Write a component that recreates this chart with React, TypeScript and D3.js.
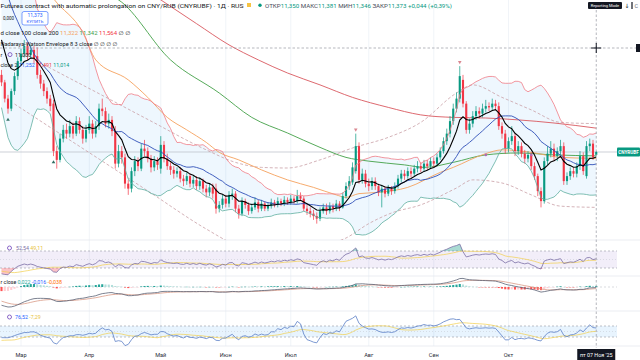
import React from "react";
import * as d3 from "d3";

// ---------- DATA ----------
const preCloses = [13.55, 13.5, 13.58, 13.48, 13.42, 13.5, 13.4, 13.35, 13.42, 13.3, 13.25, 13.32, 13.2, 13.15, 13.22, 13.1, 12.8, 12.45, 12.5, 12.38, 12.3, 12.25, 12.1, 12.15, 12.02];

const closes = [
  11.93, 11.8, 11.72, 11.86, 11.98, 12.1, 12.16, 12.22, 12.15, 12.19,
  12.12, 11.99, 11.92, 11.86, 11.8, 11.74, 11.38, 11.31, 11.48, 11.55,
  11.52, 11.58, 11.52, 11.62, 11.55, 11.48, 11.55, 11.6, 11.52, 11.58,
  11.72, 11.7, 11.6, 11.63, 11.54, 11.28, 11.38, 11.33, 11.12, 11.08,
  11.22, 11.3, 11.26, 11.4, 11.38, 11.32, 11.25, 11.3, 11.27, 11.43,
  11.32, 11.26, 11.23, 11.2, 11.22, 11.16, 11.14, 11.18, 11.12, 11.15,
  11.1, 11.14, 11.08, 11.05, 11.09, 11.04, 10.92, 10.95, 11.0, 10.96,
  11.03, 11.04, 10.92, 10.88, 10.98, 10.95, 10.9, 10.93, 10.97, 10.92,
  10.96, 10.92, 10.94, 10.97, 10.95, 10.98, 10.96, 10.99, 10.97, 11.0,
  10.98, 11.02, 11.0, 10.92, 10.9, 10.88, 10.86, 10.84, 10.9, 10.93,
  10.9, 10.94, 10.92, 10.96, 10.93, 11.02, 11.1, 11.14, 11.25, 11.42,
  11.15, 11.2, 11.12, 11.1, 11.14, 11.1, 11.05, 11.08, 11.04, 11.08,
  11.06, 11.1, 11.16, 11.2, 11.18, 11.22, 11.2, 11.24, 11.26, 11.24,
  11.28, 11.26, 11.3, 11.28, 11.33, 11.38, 11.46, 11.52, 11.62, 11.72,
  11.8, 11.98, 11.76, 11.55, 11.6, 11.66, 11.7, 11.68, 11.72, 11.74,
  11.73, 11.76, 11.74, 11.58, 11.52, 11.4, 11.46, 11.5, 11.38, 11.42,
  11.36, 11.32, 11.35, 11.26, 11.18, 11.06, 10.98, 11.3, 11.36, 11.4,
  11.34, 11.38, 11.42, 11.14, 11.18, 11.22, 11.2, 11.26, 11.34, 11.22,
  11.42, 11.44, 11.33, 11.373,
];
const opens = [
  11.99, 11.93, 11.8, 11.72, 11.86, 11.98, 12.1, 12.16, 12.22, 12.15,
  12.19, 12.14, 11.99, 11.92, 11.86, 11.8, 11.76, 11.38, 11.31, 11.48,
  11.55, 11.52, 11.58, 11.52, 11.62, 11.55, 11.48, 11.55, 11.6, 11.52,
  11.58, 11.72, 11.7, 11.6, 11.63, 11.54, 11.28, 11.38, 11.33, 11.12,
  11.08, 11.22, 11.3, 11.24, 11.4, 11.38, 11.32, 11.25, 11.3, 11.24,
  11.43, 11.32, 11.26, 11.23, 11.2, 11.22, 11.16, 11.14, 11.18, 11.12,
  11.15, 11.1, 11.14, 11.08, 11.05, 11.09, 11.08, 10.92, 10.95, 11.0,
  10.96, 11.03, 11.04, 10.92, 10.88, 10.98, 10.95, 10.9, 10.93, 10.97,
  10.92, 10.96, 10.92, 10.94, 10.97, 10.95, 10.98, 10.96, 10.99, 10.97,
  11.0, 10.98, 11.02, 11.0, 10.92, 10.9, 10.88, 10.86, 10.84, 10.9,
  10.93, 10.9, 10.94, 10.92, 10.96, 10.93, 11.02, 11.1, 11.13, 11.22,
  11.42, 11.15, 11.2, 11.12, 11.1, 11.14, 11.1, 11.05, 11.08, 11.04,
  11.08, 11.06, 11.1, 11.16, 11.2, 11.18, 11.22, 11.2, 11.24, 11.26,
  11.24, 11.28, 11.26, 11.3, 11.28, 11.33, 11.38, 11.46, 11.52, 11.62,
  11.72, 11.8, 11.95, 11.76, 11.55, 11.6, 11.66, 11.7, 11.68, 11.72,
  11.74, 11.73, 11.76, 11.74, 11.58, 11.52, 11.4, 11.46, 11.5, 11.38,
  11.42, 11.36, 11.32, 11.35, 11.26, 11.18, 11.06, 10.98, 11.3, 11.36,
  11.4, 11.34, 11.38, 11.42, 11.14, 11.18, 11.22, 11.2, 11.26, 11.34,
  11.18, 11.42, 11.44, 11.35,
];
const highs = [
  12.03, 11.95, 11.83, 11.88, 12.01, 12.13, 12.2, 12.27, 12.25, 12.23,
  12.22, 12.21, 12.03, 11.95, 11.89, 11.83, 11.79, 11.42, 11.52, 11.59,
  11.6, 11.63, 11.61, 11.66, 11.65, 11.58, 11.59, 11.66, 11.63, 11.62,
  11.76, 11.8, 11.73, 11.68, 11.66, 11.58, 11.43, 11.42, 11.36, 11.15,
  11.25, 11.34, 11.33, 11.44, 11.47, 11.41, 11.35, 11.34, 11.33, 11.5,
  11.46, 11.36, 11.29, 11.26, 11.25, 11.25, 11.19, 11.21, 11.2, 11.18,
  11.18, 11.17, 11.16, 11.11, 11.12, 11.12, 11.12, 10.98, 11.03, 11.03,
  11.06, 11.08, 11.06, 10.95, 11.01, 11.0, 10.97, 10.96, 11.01, 10.99,
  10.99, 10.98, 10.97, 11.0, 10.99, 11.01, 11.0, 11.02, 11.01, 11.03,
  11.02, 11.07, 11.05, 11.02, 10.95, 10.93, 10.91, 10.89, 10.93, 10.96,
  10.96, 10.97, 10.96, 10.99, 10.98, 11.05, 11.13, 11.18, 11.29, 11.52,
  11.45, 11.24, 11.23, 11.16, 11.17, 11.17, 11.12, 11.11, 11.1, 11.11,
  11.1, 11.13, 11.19, 11.23, 11.23, 11.25, 11.25, 11.27, 11.3, 11.29,
  11.31, 11.31, 11.33, 11.33, 11.36, 11.41, 11.49, 11.56, 11.66, 11.76,
  11.85, 12.06, 11.99, 11.78, 11.64, 11.7, 11.74, 11.73, 11.76, 11.79,
  11.77, 11.8, 11.79, 11.77, 11.61, 11.55, 11.49, 11.58, 11.52, 11.46,
  11.45, 11.39, 11.38, 11.37, 11.29, 11.2, 11.09, 11.33, 11.42, 11.46,
  11.44, 11.41, 11.47, 11.45, 11.21, 11.25, 11.25, 11.29, 11.38, 11.37,
  11.46, 11.48, 11.47, 11.381,
];
const lows = [
  11.9, 11.77, 11.68, 11.7, 11.83, 11.95, 12.07, 12.13, 12.11, 12.12,
  12.08, 11.96, 11.88, 11.82, 11.76, 11.7, 11.34, 11.24, 11.29, 11.45,
  11.48, 11.49, 11.48, 11.5, 11.52, 11.44, 11.45, 11.52, 11.48, 11.49,
  11.55, 11.66, 11.57, 11.56, 11.5, 11.24, 11.25, 11.28, 11.08, 11.03,
  11.05, 11.18, 11.22, 11.22, 11.34, 11.29, 11.21, 11.22, 11.23, 11.2,
  11.29, 11.23, 11.19, 11.16, 11.17, 11.13, 11.1, 11.11, 11.09, 11.09,
  11.07, 11.07, 11.05, 11.01, 11.02, 11.0, 10.88, 10.89, 10.92, 10.93,
  10.93, 10.99, 10.89, 10.84, 10.86, 10.92, 10.87, 10.88, 10.91, 10.89,
  10.9, 10.9, 10.9, 10.92, 10.93, 10.93, 10.94, 10.94, 10.95, 10.95,
  10.96, 10.96, 10.98, 10.9, 10.87, 10.85, 10.83, 10.8, 10.82, 10.88,
  10.87, 10.88, 10.89, 10.9, 10.9, 10.92, 11.0, 11.07, 11.11, 11.2,
  11.12, 11.12, 11.09, 11.06, 11.07, 11.07, 11.02, 10.93, 11.01, 11.02,
  11.03, 11.04, 11.08, 11.13, 11.15, 11.16, 11.17, 11.18, 11.21, 11.21,
  11.22, 11.23, 11.24, 11.25, 11.26, 11.31, 11.36, 11.43, 11.49, 11.59,
  11.69, 11.77, 11.73, 11.52, 11.52, 11.57, 11.63, 11.64, 11.65, 11.69,
  11.7, 11.71, 11.71, 11.55, 11.48, 11.36, 11.37, 11.43, 11.34, 11.35,
  11.33, 11.28, 11.29, 11.23, 11.15, 11.02, 10.93, 10.96, 11.27, 11.33,
  11.3, 11.3, 11.35, 11.11, 11.11, 11.15, 11.17, 11.17, 11.23, 11.19,
  11.16, 11.38, 11.31, 11.346,
];

// moving averages: [bar index, price]
const ma50Pts = [[12, 12.75], [16, 12.6], [25, 12.33], [29, 12.11], [39, 11.95], [45, 11.81], [51, 11.65], [57, 11.55], [63, 11.45], [67, 11.37], [73, 11.31], [80, 11.23], [88, 11.15], [96, 11.09], [103, 11.03], [106, 11.01], [110, 11.04], [116, 11.05], [125, 11.09], [135, 11.21], [139, 11.25], [149, 11.36], [154, 11.39], [163, 11.37], [172, 11.33], [183, 11.322]];
const ma100Pts = [[30, 12.66], [36, 12.59], [52, 12.11], [67, 11.845], [77, 11.65], [88, 11.525], [98, 11.41], [106, 11.33], [113, 11.3], [124, 11.27], [130, 11.25], [139, 11.29], [149, 11.35], [159, 11.365], [170, 11.35], [183, 11.342]];
const ma200Pts = [[45, 12.66], [49, 12.59], [60, 12.4], [70, 12.23], [79, 12.11], [88, 12.005], [98, 11.91], [108, 11.81], [119, 11.73], [129, 11.67], [139, 11.65], [149, 11.645], [159, 11.63], [170, 11.605], [183, 11.564]];
const nwUpperPts = [[9, 12.13], [15, 12.045], [30, 11.84], [46, 11.62], [63, 11.39], [72, 11.29], [80, 11.25], [88, 11.245], [98, 11.31], [108, 11.405], [119, 11.49], [129, 11.61], [140, 11.845], [145, 11.91], [154, 11.81], [163, 11.71], [172, 11.61], [183, 11.6]];
const nwLowerPts = [[4, 11.757], [15, 11.57], [30, 11.317], [46, 11.045], [63, 10.757], [72, 10.63], [80, 10.57], [88, 10.565], [98, 10.62], [106, 10.685], [113, 10.8], [120, 10.885], [129, 10.95], [140, 11.085], [145, 11.15], [154, 11.125], [163, 11.03], [172, 10.94], [183, 10.93]];

const upMarkers = [2, 16];
const downMarkers = [109, 141];
const crossMarkers = [149, 163];

const monthLabels = ["Мар", "Апр", "Май", "Июн", "Июл", "Авг", "Сен", "Окт"];
const monthIdx = [6, 27, 49, 69, 89, 113, 133, 156];
const lastDateLabel = "пт 07 Ноя '25";
const cursorPrice = 12.205;

const titleText = "Futures contract with automatic prolongation on CNY/RUB (CNYRUBF) · 1Д · RUS";
const ohlcLabels = ["ОТКР", "МАКС", "МИН", "ЗАКР"];
const ohlcValues = ["11,350", "11,381", "11,346", "11,373"];
const changeText = "+0,044 (+0,39%)";
const maLegendValues = ["11,322", "11,342", "11,564"];
const bbLegendValues = ["11,252", "11,491", "11,014"];
const rsiLegendValues = ["52,54", "49,11"];
const macdLegendValues = ["0,022", "-0,016", "-0,038"];
const cciLegendValues = ["76,52", "-7,29"];

// ---------- HELPERS ----------
const FONT = "Roboto, 'Noto Sans', 'DejaVu Sans', sans-serif";
const GREEN = "#089981";
const RED = "#f23645";

function ema(v: number[], len: number) {
  const k = 2 / (len + 1);
  const out: number[] = [];
  v.forEach((val, i) => out.push(i === 0 ? val : val * k + out[i - 1] * (1 - k)));
  return out;
}
function sma(v: number[], len: number) {
  return v.map((_, i) => d3.mean(v.slice(Math.max(0, i - len + 1), i + 1)) as number);
}
function rsiCalc(v: number[], n: number) {
  const out = new Array(v.length).fill(50);
  let ag = 0, al = 0;
  for (let i = 1; i < v.length; i++) {
    const ch = v[i] - v[i - 1];
    const g = Math.max(ch, 0), l = Math.max(-ch, 0);
    if (i <= n) { ag += g / n; al += l / n; } else { ag = (ag * (n - 1) + g) / n; al = (al * (n - 1) + l) / n; }
    out[i] = al === 0 ? 100 : 100 - 100 / (1 + ag / al);
  }
  return out;
}

export default function App() {
  const P = preCloses.length;
  const all = preCloses.concat(closes);
  const N = closes.length;

  // indicators
  const ema9 = ema(all, 9).slice(P);
  const basisAll = sma(all, 20);
  const devAll = all.map((_, i) => {
    const w = all.slice(Math.max(0, i - 19), i + 1);
    const m = basisAll[i];
    return Math.sqrt(d3.mean(w, (q) => (q - m) * (q - m)) as number);
  });
  const basis = basisAll.slice(P);
  const bbU = basisAll.map((b, i) => b + 2 * devAll[i]).slice(P);
  const bbL = basisAll.map((b, i) => b - 2 * devAll[i]).slice(P);

  const rsiAll = rsiCalc(all, 14);
  const rsiMaAll = sma(rsiAll, 14);
  const rsi = rsiAll.slice(P);
  const rsiMa = rsiMaAll.slice(P);

  const e12 = ema(all, 12), e26 = ema(all, 26);
  const macdAll = e12.map((v, i) => v - e26[i]);
  const sigAll = ema(macdAll, 9);
  const macd = macdAll.slice(P);
  const sig = sigAll.slice(P);
  const hist = macd.map((v, i) => v - sig[i]);

  const tp = all.map((c, i) => (i < P ? c : (highs[i - P] + lows[i - P] + c) / 3));
  const tpSma = sma(tp, 20);
  const cciAll = tp.map((t, i) => {
    const w = tp.slice(Math.max(0, i - 19), i + 1);
    const md = d3.mean(w, (q) => Math.abs(q - tpSma[i])) as number;
    return md === 0 ? 0 : (t - tpSma[i]) / (0.015 * md);
  });
  const cciMaAll = sma(cciAll, 14);
  const cci = cciAll.slice(P);
  const cciMa = cciMaAll.slice(P);

  // layout
  const plotR = 617;
  const mainB = 240, rsiT = 240, rsiB = 276, macdT = 276, macdB = 311, cciT = 311, cciB = 346;

  const x = d3.scaleLinear().domain([0, N - 1]).range([1.5, 596.25]);
  const yP = d3.scaleLinear().domain([10.685, 12.589]).range([238, 0]);
  const yR = d3.scaleLinear().domain([30, 70]).range([268, 251]);
  const yC = d3.scaleLinear().domain([-100, 100]).range([337, 326]);
  const mMin = d3.min(macd.concat(sig)) as number;
  const yM = d3.scaleLinear().domain([mMin, 0]).range([307, 287]);

  const lineOf = (ys: (v: number) => number) => d3.line<number>().x((_, i) => x(i)).y((v) => ys(v));
  const ptsLine = d3.line<number[]>().x((d) => x(d[0])).y((d) => yP(d[1])).curve(d3.curveMonotoneX);
  const bbArea = d3.area<number>().x((_, i) => x(i)).y0((_, i) => yP(bbL[i])).y1((v) => yP(v));
  const obArea = d3.area<number>().x((_, i) => x(i)).y0(yR(70)).y1((v) => yR(Math.max(v, 70)));
  const osArea = d3.area<number>().x((_, i) => x(i)).y0(yR(30)).y1((v) => yR(Math.min(v, 30)));

  const bw = 2.1;
  const lastX = x(N - 1);
  const lastY = yP(closes[N - 1]);
  const curY = yP(cursorPrice);

  const txt = (props: any, children: any) => (
    <text fontFamily={FONT} {...props}>{children}</text>
  );

  return (
    <svg width={640} height={360} viewBox="0 0 640 360" style={{ position: "fixed", left: 0, top: 0, background: "#fff" }}>
      <defs>
        <clipPath id="cMain"><rect x={0} y={0} width={plotR} height={mainB} /></clipPath>
        <clipPath id="cRsi"><rect x={0} y={rsiT} width={plotR} height={rsiB - rsiT} /></clipPath>
        <clipPath id="cMacd"><rect x={0} y={macdT} width={plotR} height={macdB - macdT} /></clipPath>
        <clipPath id="cCci"><rect x={0} y={cciT} width={plotR} height={cciB - cciT} /></clipPath>
      </defs>
      <rect x={0} y={0} width={640} height={360} fill="#ffffff" />

      {/* grid */}
      {monthIdx.map((m, i) => (
        <line key={"g" + i} x1={x(m)} x2={x(m)} y1={0} y2={cciB} stroke="#eef1f6" strokeWidth={0.8} />
      ))}
      {[rsiT, macdT, cciT, cciB].map((yy, i) => (
        <line key={"s" + i} x1={0} x2={640} y1={yy} y2={yy} stroke="#e6e9ef" strokeWidth={0.8} />
      ))}

      {/* main pane */}
      <g clipPath="url(#cMain)">
        <path d={bbArea(bbU) || ""} fill="rgba(33,150,243,0.08)" />
        <line x1={0} x2={plotR} y1={lastY} y2={lastY} stroke="#b8bcc6" strokeWidth={0.7} />
        <path d={ptsLine(nwUpperPts) || ""} fill="none" stroke="#c9a0a6" strokeWidth={0.8} strokeDasharray="3 2" />
        <path d={ptsLine(nwLowerPts) || ""} fill="none" stroke="#c9a0a6" strokeWidth={0.8} strokeDasharray="3 2" />
        <path d={ptsLine(ma200Pts) || ""} fill="none" stroke="#d9585f" strokeWidth={0.9} />
        <path d={ptsLine(ma100Pts) || ""} fill="none" stroke="#43a047" strokeWidth={0.9} />
        <path d={ptsLine(ma50Pts) || ""} fill="none" stroke="#f5a25d" strokeWidth={0.9} />
        {closes.map((c, i) => {
          const o = opens[i];
          const col = c >= o ? GREEN : RED;
          const cx = x(i);
          const yt = yP(Math.max(o, c)), yb = yP(Math.min(o, c));
          return (
            <g key={"c" + i}>
              <line x1={cx} x2={cx} y1={yP(highs[i])} y2={yP(lows[i])} stroke={col} strokeWidth={0.7} />
              <rect x={cx - bw / 2} y={yt} width={bw} height={Math.max(0.7, yb - yt)} fill={col} />
            </g>
          );
        })}
        <path d={lineOf(yP)(bbU) || ""} fill="none" stroke="#f07c86" strokeWidth={0.8} />
        <path d={lineOf(yP)(bbL) || ""} fill="none" stroke="#5fae9f" strokeWidth={0.8} />
        <path d={lineOf(yP)(basis) || ""} fill="none" stroke="#2f4fb8" strokeWidth={0.9} />
        <path d={lineOf(yP)(ema9) || ""} fill="none" stroke="#000000" strokeWidth={1.1} />
        {upMarkers.map((m) => {
          const cx = x(m), cy = yP(lows[m]) + 6;
          return <path key={"u" + m} d={`M${cx},${cy - 2}L${cx + 1.8},${cy + 1.2}L${cx - 1.8},${cy + 1.2}Z`} fill="#2e6e62" />;
        })}
        {downMarkers.map((m) => {
          const cx = x(m), cy = yP(highs[m]) - 4;
          return <path key={"d" + m} d={`M${cx},${cy + 2}L${cx + 1.8},${cy - 1.2}L${cx - 1.8},${cy - 1.2}Z`} fill="#d9868f" />;
        })}
        {crossMarkers.map((m) => (
          <circle key={"x" + m} cx={x(m)} cy={yP(ma100Pts.find((p) => p[0] >= m)![1])} r={1.3} fill="#b06ab3" />
        ))}
      </g>

      {/* RSI pane */}
      <g clipPath="url(#cRsi)">
        <rect x={0} y={yR(70)} width={plotR} height={yR(30) - yR(70)} fill="rgba(126,87,194,0.1)" />
        <line x1={0} x2={plotR} y1={yR(70)} y2={yR(70)} stroke="#9598a1" strokeWidth={0.6} strokeDasharray="2 2" />
        <line x1={0} x2={plotR} y1={yR(50)} y2={yR(50)} stroke="#c3c6ce" strokeWidth={0.5} strokeDasharray="1 2" />
        <line x1={0} x2={plotR} y1={yR(30)} y2={yR(30)} stroke="#9598a1" strokeWidth={0.6} strokeDasharray="2 2" />
        <path d={obArea(rsi) || ""} fill="rgba(8,153,129,0.35)" />
        <path d={osArea(rsi) || ""} fill="rgba(242,54,69,0.3)" />
        <path d={lineOf(yR)(rsiMa) || ""} fill="none" stroke="#f2cf4a" strokeWidth={0.7} />
        <path d={lineOf(yR)(rsi) || ""} fill="none" stroke="#7b6fa6" strokeWidth={0.8} />
      </g>

      {/* MACD pane */}
      <g clipPath="url(#cMacd)">
        <line x1={0} x2={plotR} y1={yM(0)} y2={yM(0)} stroke="#b2b5be" strokeWidth={0.5} strokeDasharray="2 2" />
        {hist.map((h, i) => {
          const prev = i > 0 ? hist[i - 1] : h;
          const col = h >= 0 ? (h >= prev ? "#26a69a" : "#b2dfdb") : (h <= prev ? "#ff5252" : "#ffcdd2");
          const y0 = yM(0), y1 = yM(h);
          return <rect key={"h" + i} x={x(i) - bw / 2} y={Math.min(y0, y1)} width={bw} height={Math.max(0.4, Math.abs(y1 - y0))} fill={col} />;
        })}
        <path d={lineOf(yM)(sig) || ""} fill="none" stroke="#d99a86" strokeWidth={0.8} />
        <path d={lineOf(yM)(macd) || ""} fill="none" stroke="#5a6275" strokeWidth={0.8} />
      </g>

      {/* CCI pane */}
      <g clipPath="url(#cCci)">
        <rect x={0} y={yC(100)} width={plotR} height={yC(-100) - yC(100)} fill="rgba(33,150,243,0.1)" />
        <line x1={0} x2={plotR} y1={yC(100)} y2={yC(100)} stroke="#9598a1" strokeWidth={0.6} strokeDasharray="2 2" />
        <line x1={0} x2={plotR} y1={yC(0)} y2={yC(0)} stroke="#c3c6ce" strokeWidth={0.5} strokeDasharray="1 2" />
        <line x1={0} x2={plotR} y1={yC(-100)} y2={yC(-100)} stroke="#9598a1" strokeWidth={0.6} strokeDasharray="2 2" />
        <path d={lineOf(yC)(cciMa) || ""} fill="none" stroke="#f2cf4a" strokeWidth={0.7} />
        <path d={lineOf(yC)(cci) || ""} fill="none" stroke="#5b7fc7" strokeWidth={0.8} />
      </g>

      {/* crosshair */}
      <line x1={0} x2={640} y1={curY} y2={curY} stroke="#9598a1" strokeWidth={0.7} strokeDasharray="2.5 2" />
      <line x1={lastX} x2={lastX} y1={10} y2={cciB + 2} stroke="#9598a1" strokeWidth={0.7} strokeDasharray="2.5 2" />
      <line x1={lastX - 5} x2={lastX + 5} y1={curY} y2={curY} stroke="#131722" strokeWidth={1} />
      <line x1={lastX} x2={lastX} y1={curY - 5} y2={curY + 5} stroke="#131722" strokeWidth={1} />
      <rect x={636} y={curY - 4} width={6} height={8} fill="#131722" />

      {/* price label */}
      <rect x={plotR} y={lastY - 4.5} width={23} height={9} fill={GREEN} rx={1} />
      {txt({ x: plotR + 1.2, y: lastY + 1.8, fontSize: 4.6, fill: "#fff", fontWeight: 700, textLength: 20.5, lengthAdjust: "spacingAndGlyphs" }, "CNYRUBF")}

      {/* top right */}
      <rect x={588} y={2} width={34} height={7} fill="#131722" rx={1} />
      {txt({ x: 605, y: 7.2, fontSize: 4, fill: "#fff", textAnchor: "middle" }, "Reporting Mode")}
      {txt({ x: 627, y: 8, fontSize: 6, fill: "#131722", textAnchor: "middle" }, "↓")}
      <line x1={632} x2={632} y1={2} y2={9} stroke="#131722" strokeWidth={1.2} />
      {txt({ x: 634.5, y: 8, fontSize: 5.5, fill: "#6a6d78" }, "C")}

      {/* legend main */}
      {txt({ x: 0.5, y: 8, fontSize: 6.2, fill: "#131722", textLength: 243, lengthAdjust: "spacingAndGlyphs" }, titleText)}
      <rect x={247} y={3} width={4} height={4} fill="#f6c343" />
      <circle cx={260} cy={5.2} r={1.7} fill={GREEN} />
      <text fontFamily={FONT} x={265} y={8} fontSize={5.4} textLength={187} lengthAdjust="spacingAndGlyphs">
        {ohlcLabels.map((l, i) => (
          <React.Fragment key={l}>
            <tspan fill="#4a4e5a">{l}</tspan>
            <tspan fill={GREEN}>{ohlcValues[i] + " "}</tspan>
          </React.Fragment>
        ))}
        <tspan fill={GREEN}>{changeText}</tspan>
      </text>

      {txt({ x: 3, y: 20, fontSize: 4.5, fill: "#131722" }, "0,000")}
      <rect x={22} y={11.5} width={26} height={13.5} rx={2} fill="#fff" stroke="#2962ff" strokeWidth={0.6} />
      {txt({ x: 35, y: 17.2, fontSize: 5, fill: "#2962ff", textAnchor: "middle" }, "11,373")}
      {txt({ x: 35, y: 23, fontSize: 4.3, fill: "#2962ff", textAnchor: "middle" }, "КУПИТЬ")}

      <text fontFamily={FONT} x={0.5} y={35} fontSize={5.3} textLength={130} lengthAdjust="spacingAndGlyphs">
        <tspan fill="#131722">{"d close 100 close 200  "}</tspan>
        <tspan fill="#f5a25d">{maLegendValues[0] + " "}</tspan>
        <tspan fill="#43a047">{maLegendValues[1] + "  "}</tspan>
        <tspan fill={RED}>{maLegendValues[2] + "  "}</tspan>
        <tspan fill="#131722">{"∅  ∅"}</tspan>
      </text>
      <text fontFamily={FONT} x={0.5} y={46} fontSize={5.3} textLength={117} lengthAdjust="spacingAndGlyphs">
        <tspan fill="#131722">{"Nadaraya-Watson Envelope 8 3 close  ∅  ∅  ∅  ∅"}</tspan>
      </text>
      {txt({ x: 0.5, y: 56.5, fontSize: 5.3, fill: "#131722" }, "r")}
      <circle cx={10} cy={54.6} r={2} fill="none" stroke="#7e57c2" strokeWidth={0.9} />
      {txt({ x: 15, y: 56.5, fontSize: 5.3, fill: "#131722" }, "11,000")}
      <text fontFamily={FONT} x={0.5} y={67} fontSize={5.3}>
        <tspan fill="#131722">{"close 2  "}</tspan>
        <tspan fill="#2962ff">{bbLegendValues[0] + " "}</tspan>
        <tspan fill={RED}>{bbLegendValues[1] + " "}</tspan>
        <tspan fill={GREEN}>{bbLegendValues[2]}</tspan>
      </text>

      {/* pane legends */}
      <circle cx={9.5} cy={248} r={2} fill="none" stroke="#7e57c2" strokeWidth={0.9} />
      <text fontFamily={FONT} x={16} y={250} fontSize={5.3}>
        <tspan fill="#7b6fa6">{rsiLegendValues[0] + "   "}</tspan>
        <tspan fill="#e8c23a">{rsiLegendValues[1]}</tspan>
      </text>
      <text fontFamily={FONT} x={0.5} y={284} fontSize={5.3}>
        <tspan fill="#131722">{"r close   "}</tspan>
        <tspan fill="#26a69a">{macdLegendValues[0] + "  "}</tspan>
        <tspan fill="#2962ff">{macdLegendValues[1] + "  "}</tspan>
        <tspan fill="#ff6d00">{macdLegendValues[2]}</tspan>
      </text>
      <circle cx={9.5} cy={317} r={2} fill="none" stroke="#7e57c2" strokeWidth={0.9} />
      <text fontFamily={FONT} x={15} y={319} fontSize={5.3}>
        <tspan fill="#2962ff">{cciLegendValues[0] + "   "}</tspan>
        <tspan fill="#e8c23a">{cciLegendValues[1]}</tspan>
      </text>

      {/* time axis */}
      {monthLabels.map((m, i) => (
        <text key={"m" + i} fontFamily={FONT} x={x(monthIdx[i])} y={357} fontSize={5.6} fill="#2a2e39" textAnchor="middle">{m}</text>
      ))}
      <rect x={lastX - 19} y={349} width={38} height={11} fill="#131722" />
      {txt({ x: lastX, y: 356.8, fontSize: 5.4, fill: "#fff", textAnchor: "middle" }, lastDateLabel)}
    </svg>
  );
}
